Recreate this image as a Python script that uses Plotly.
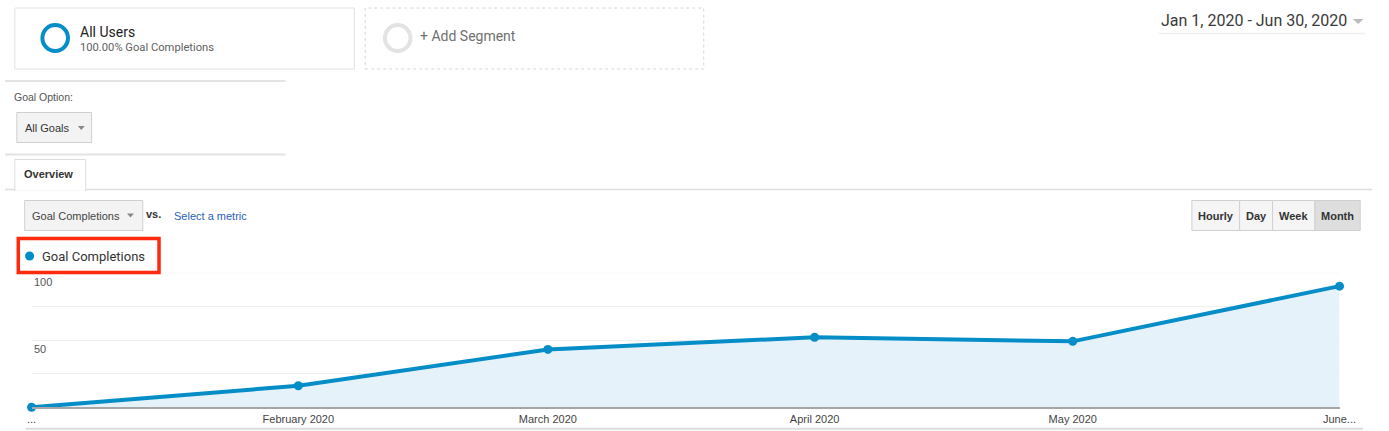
import plotly.graph_objects as go

# ---------------- data ----------------
months = ["2020-01-01", "2020-02-01", "2020-03-01", "2020-04-01", "2020-05-01", "2020-06-01"]
goal_completions = [0, 16, 43, 52, 49, 90]
x_tick_labels = ["...", "February 2020", "March 2020", "April 2020", "May 2020", "June..."]
y_grid_vals = [25, 50, 75, 100]
y_label_vals = [100, 50]
granularity = ["Hourly", "Day", "Week", "Month"]

W, H = 1389, 431
BLUE = "#058dc7"
ARIAL = "Liberation Sans, Arial, sans-serif"
ROBOTO = "Roboto, sans-serif"
PAD = 2  # annotation inner offset


def X(px):
    return px / W


def Y(py):
    return 1 - py / H


shapes = []
annotations = []


def rect(x0, y0, x1, y1, fill="rgba(0,0,0,0)", line="rgba(0,0,0,0)", width=1, dash="solid"):
    shapes.append(dict(type="rect", xref="paper", yref="paper", x0=X(x0), x1=X(x1),
                       y0=Y(y1), y1=Y(y0), fillcolor=fill,
                       line=dict(color=line, width=width, dash=dash)))


def hline(x0, x1, y, color, width=1):
    shapes.append(dict(type="line", xref="paper", yref="paper", x0=X(x0), x1=X(x1),
                       y0=Y(y), y1=Y(y), line=dict(color=color, width=width)))


def circle(cx, cy, r, line, width, fill="rgba(0,0,0,0)"):
    shapes.append(dict(type="circle", xref="paper", yref="paper", x0=X(cx - r), x1=X(cx + r),
                       y0=Y(cy + r), y1=Y(cy - r), fillcolor=fill,
                       line=dict(color=line, width=width)))


def tri(cx, cy, w=7, h=4, color="#888"):
    p = "M {},{} L {},{} L {},{} Z".format(X(cx - w / 2), Y(cy - h / 2), X(cx + w / 2), Y(cy - h / 2),
                                          X(cx), Y(cy + h / 2))
    shapes.append(dict(type="path", xref="paper", yref="paper", path=p, fillcolor=color,
                       line=dict(color=color, width=0)))


def txt(x, y, s, size, color, family=ARIAL, anchor="left"):
    if anchor == "left":
        x -= PAD
    annotations.append(dict(xref="paper", yref="paper", x=X(x), y=Y(y), text=s, showarrow=False,
                            xanchor=anchor, yanchor="middle", borderpad=0,
                            font=dict(size=size, color=color, family=family)))


# ---------- segment boxes ----------
rect(10, 8, 355, 69, fill="#ffffff", line="#e2e2e2")
circle(51, 38, 13, BLUE, 4)
txt(77, 31.5, "All Users", 14, "#222222", ROBOTO)
txt(77, 47, "100.00% Goal Completions", 11.2, "#616161", ROBOTO)

rect(366, 8, 710, 69, fill="#ffffff", line="#d6d6d6", dash="3px,3px")
circle(399, 38, 13, "#e3e3e3", 4)
txt(423, 36, "+ Add Segment", 14, "#707070", ROBOTO)

# ---------- date range ----------
txt(1176, 20.5, "Jan 1, 2020 - Jun 30, 2020", 16, "#3a3a3a", ROBOTO)
tri(1375, 21.5, w=11, h=5, color="#bdbdbd")
hline(1172, 1382, 33.5, "#eeeeee", 1.5)

# ---------- goal option ----------
hline(0, 285, 81, "#e3e3e3", 2)
txt(10, 97, "Goal Option:", 10.5, "#555555")
rect(12, 112.5, 88, 142.5, fill="#f3f3f3", line="#cfcfcf")
txt(21, 128, "All Goals", 11, "#333333")
tri(77.5, 128, w=7, h=4, color="#888888")
hline(0, 285, 154.5, "#e3e3e3", 2)

# ---------- tab ----------
hline(0, 1389, 189.5, "#dddddd", 1.5)
rect(10, 159.5, 82, 190.5, fill="#ffffff", line="#dddddd")
hline(10.7, 81.3, 189.8, "#ffffff", 2)
txt(20, 174.5, "<b>Overview</b>", 11, "#333333")

# ---------- metric selector ----------
rect(20, 200.5, 140, 230.5, fill="#f3f3f3", line="#cfcfcf")
txt(28.5, 215.5, "Goal Completions", 11, "#444444")
tri(127.5, 215.5, w=7, h=4, color="#888888")
txt(144.5, 213.5, "<b>vs.</b>", 11, "#333333")
txt(173, 215.5, "Select a metric", 11, "#2a62b8")

# ---------- granularity buttons ----------
bx = [1206, 1254.5, 1288, 1331, 1377]
for i, label in enumerate(granularity):
    fill = "#dedede" if label == "Month" else "#f5f5f5"
    rect(bx[i], 200.5, bx[i + 1], 230.5, fill=fill, line="#d0d0d0")
    txt((bx[i] + bx[i + 1]) / 2, 216, "<b>" + label + "</b>", 11, "#333333", anchor="center")

# ---------- legend ----------
circle(25, 256, 4.6, BLUE, 0, fill=BLUE)
txt(39, 256, "Goal Completions", 13, "#333333", ROBOTO)
rect(13.5, 238.5, 156.5, 272.5, line="#ff2a0d", width=3.5)

# ---------- bottom rule ----------
hline(21, 1380, 428.8, "#dddddd", 2)

# ---------- top grid line (range end) ----------
shapes.append(dict(type="line", xref="x domain", yref="y", x0=0, x1=1, y0=100, y1=100,
                   line=dict(color="#eeeeee", width=1), layer="below"))

# ---------- y labels via axis coords ----------
for v in y_label_vals:
    annotations.append(dict(xref="paper", yref="y", x=X(30 - PAD), y=v, text=str(v), showarrow=False,
                            xanchor="left", yanchor="top", yshift=-2, borderpad=0,
                            font=dict(size=11, color="#555555", family=ARIAL)))

fig = go.Figure()
fig.add_trace(go.Scatter(
    x=months, y=goal_completions, mode="lines+markers",
    line=dict(color=BLUE, width=4), marker=dict(color=BLUE, size=9),
    fill="tozeroy", fillcolor="#e5f2f9", cliponaxis=False, hoverinfo="skip",
))

fig.update_layout(
    width=W, height=H, margin=dict(l=0, r=0, t=0, b=0, pad=0),
    paper_bgcolor="#ffffff", plot_bgcolor="#ffffff", showlegend=False,
    xaxis=dict(domain=[X(27), X(1356)], type="date", range=[months[0], months[-1]],
               tickvals=months, ticktext=x_tick_labels, showgrid=False, zeroline=False,
               showline=True, linecolor="#a6a6a6", linewidth=2, ticks="",
               tickfont=dict(size=11, color="#444444", family=ARIAL), fixedrange=True),
    yaxis=dict(domain=[Y(407.3), Y(272.7)], range=[0, 100], tickvals=y_grid_vals,
               showticklabels=False, gridcolor="#eeeeee", gridwidth=1, zeroline=False,
               showline=False, ticks="", fixedrange=True),
    shapes=shapes, annotations=annotations,
)

fig.write_html("out.html")
